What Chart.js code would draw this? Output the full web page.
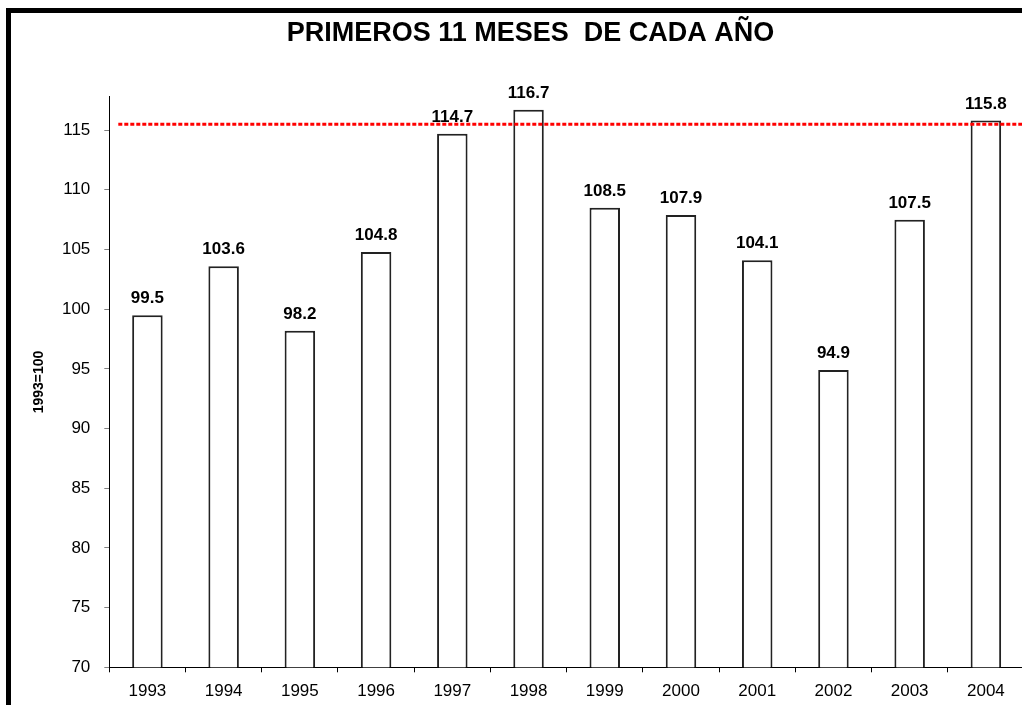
<!DOCTYPE html>
<html>
<head>
<meta charset="utf-8">
<script src="https://cdn.jsdelivr.net/npm/chart.js@4/dist/chart.umd.min.js"></script>
<style>
  html, body { margin: 0; padding: 0; background: #fff; overflow: hidden; width: 1022px; height: 705px; }
  #frame { position: absolute; left: 6px; top: 8px; border-left: 5px solid #000; border-top: 5px solid #000; }
  canvas { display: block; }
</style>
</head>
<body>
<div id="frame"><canvas id="c" width="1013" height="692" style="width:1013px;height:692px"></canvas></div>
<script>
const chartTitle = 'PRIMEROS 11 MESES  DE CADA AÑO';
const yAxisTitle = '1993=100';
const categories = ['1993','1994','1995','1996','1997','1998','1999','2000','2001','2002','2003','2004'];
const values = [99.5, 103.6, 98.2, 104.8, 114.7, 116.7, 108.5, 107.9, 104.1, 94.9, 107.5, 115.8];
const referenceLine = [115.5];
const yMin = 70, yMax = 117.8, yStep = 5;

const FONT = 'Liberation Sans, Arial, Helvetica, sans-serif';

const extrasPlugin = {
  id: 'extras',
  afterDraw(chart) {
    const ctx = chart.ctx;
    const area = chart.chartArea;
    const y = chart.scales.y;
    // title
    ctx.save();
    ctx.fillStyle = '#000';
    ctx.font = 'bold 27px ' + FONT;
    ctx.textAlign = 'center';
    ctx.textBaseline = 'middle';
    ctx.fillText(chartTitle, 519.5, 21);
    // value labels
    ctx.font = 'bold 17px ' + FONT;
    ctx.textBaseline = 'alphabetic';
    const meta = chart.getDatasetMeta(0);
    meta.data.forEach((bar, i) => {
      ctx.fillText(values[i].toFixed(1), bar.x, bar.y - 12);
    });
    // reference line
    referenceLine.forEach(v => {
      const py = y.getPixelForValue(v);
      ctx.strokeStyle = '#ff0000';
      ctx.lineWidth = 3;
      ctx.setLineDash([4, 2]);
      ctx.beginPath();
      ctx.moveTo(area.left + 9, py);
      ctx.lineTo(chart.width, py);
      ctx.stroke();
    });
    ctx.restore();
  }
};

new Chart(document.getElementById('c'), {
  type: 'bar',
  data: {
    labels: categories,
    datasets: [{
      data: values,
      backgroundColor: '#ffffff',
      borderColor: '#222222',
      borderWidth: 2,
      barPercentage: 0.4,
      categoryPercentage: 1.0
    }]
  },
  options: {
    responsive: false,
    animation: false,
    devicePixelRatio: 1,
    layout: { padding: { top: 83.7, left: 0, right: 0, bottom: 0 } },
    plugins: {
      legend: { display: false },
      title: { display: false },
      tooltip: { enabled: false }
    },
    scales: {
      x: {
        grid: { offset: true, drawOnChartArea: false, tickLength: 5, color: '#000' },
        border: { color: '#000', width: 1 },
        ticks: { font: { family: FONT, size: 17 }, color: '#000', padding: 9, maxRotation: 0, autoSkip: false },
        afterFit(s) { s.height = 37.7; }
      },
      y: {
        min: yMin,
        max: yMax,
        ticks: { stepSize: yStep, font: { family: FONT, size: 17 }, color: '#000', padding: 14 },
        afterBuildTicks(s) { s.ticks = s.ticks.filter(t => Math.abs(t.value % yStep) < 1e-9); },
        grid: { drawOnChartArea: false, tickLength: 5, color: '#808080' },
        border: { color: '#000', width: 1 },
        title: { display: true, text: yAxisTitle, color: '#000', font: { family: FONT, size: 14, weight: 'bold' }, padding: { top: 19.6, bottom: 0 } },
        afterFit(s) { s.width = 98.3; }
      }
    }
  },
  plugins: [extrasPlugin]
});
</script>
</body>
</html>
